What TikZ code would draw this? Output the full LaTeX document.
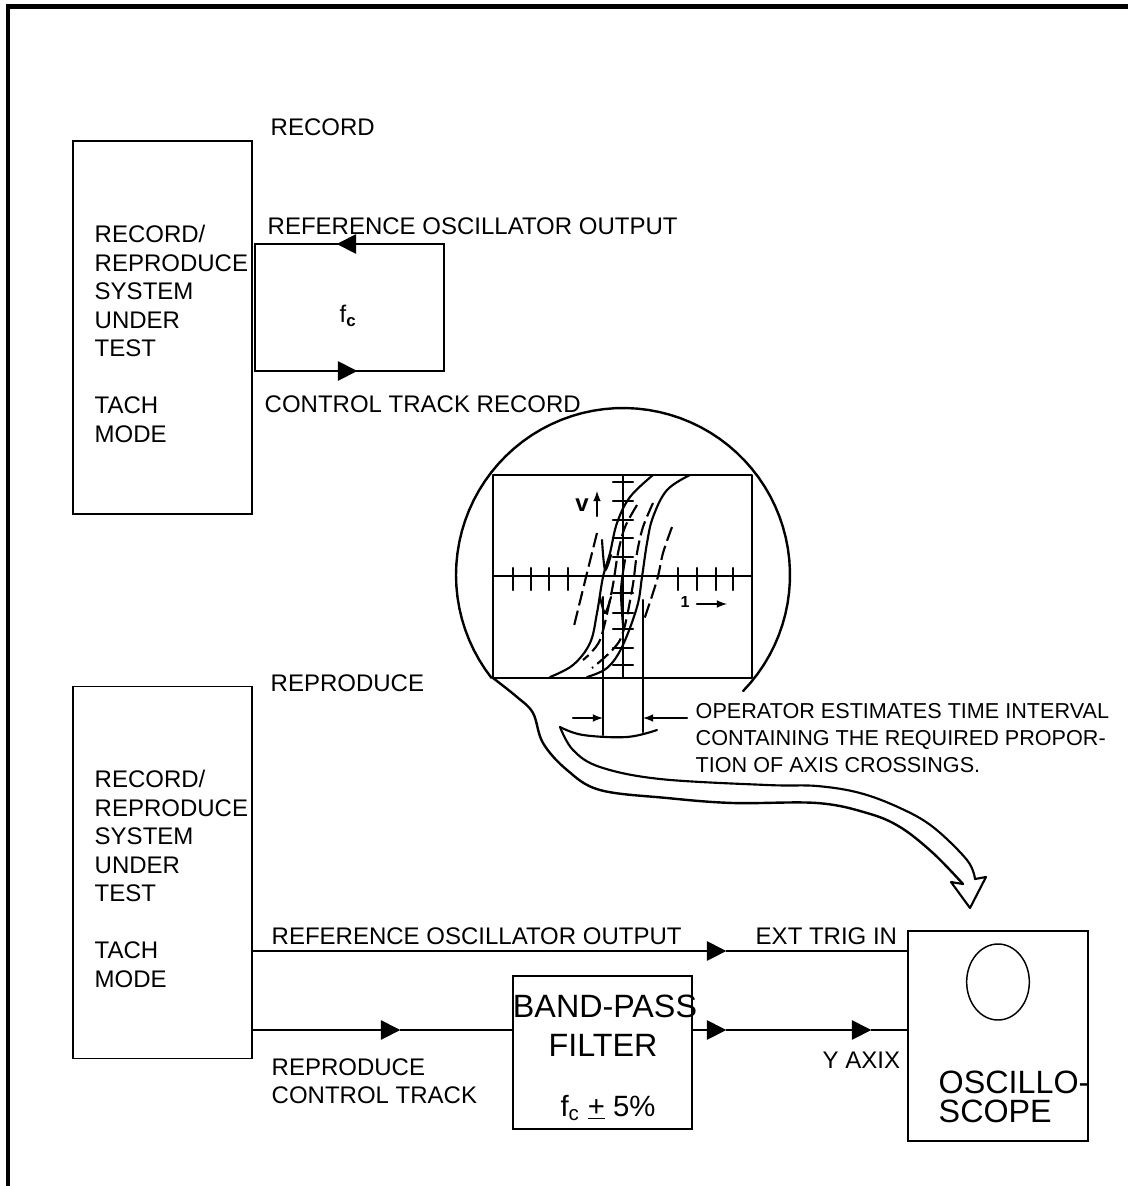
\documentclass[tikz,border=0pt]{standalone}
\usepackage{fontspec}
\setmainfont{Liberation Sans}
\usetikzlibrary{shapes.geometric}

\begin{document}
\begin{tikzpicture}[x=0.75pt, y=-0.75pt, line width=1.1pt,
box node/.style={draw, minimum width=#1, inner sep=0},
tip node/.style={isosceles triangle, isosceles triangle apex angle=54, fill, inner sep=0, outer sep=0, minimum height=14.5pt, minimum width=14.5pt},
txt/.style={anchor=west, inner sep=0, font=\fontsize{18}{21.4}\selectfont, align=left},
big/.style={inner sep=0, font=\fontsize{24.2}{29}\selectfont},
small/.style={anchor=west, inner sep=0, font=\fontsize{16.2}{20.2}\selectfont, align=left},
scan/.style={line width=1.6pt, line cap=round, line join=round},
scandash/.style={line width=1.6pt, dash pattern=on 11pt off 4pt}]
\useasboundingbox (0,0) rectangle (1128,1186);
% frame
\coordinate (f1) at (8,1186);
\coordinate (f2) at (8,6.5);
\coordinate (f3) at (1128,6.5);
\draw [line width=3.6pt, line join=miter] (f1) -- (f2) -- (f3);
% record
\node[box node=134.25pt, minimum height=279.75pt] (1) at (162.5,327.5) {};
\node[txt] (1t) at (94,334) {RECORD/\\REPRODUCE\\SYSTEM\\UNDER\\TEST\\[21.4pt]TACH\\MODE};
\node[txt] (2) at (270,127) {RECORD};
\node[box node=141.75pt, minimum height=95.25pt] (3) at (349.5,307.5) {};
\node[txt] (4) at (267,226) {REFERENCE OSCILLATOR OUTPUT};
\node[txt] (5) at (339,316) {f\textsubscript{\textbf{c}}};
\node[txt] (6) at (264,404) {CONTROL TRACK RECORD};
\node[tip node, rotate=180] (7) at (350,244) {};
\node[tip node] (8) at (344,371) {};
% reproduce
\node[box node=134.25pt, minimum height=279pt] (9) at (162.5,872.5) {};
\node[txt] (9t) at (94,879) {RECORD/\\REPRODUCE\\SYSTEM\\UNDER\\TEST\\[21.4pt]TACH\\MODE};
\node[txt] (10) at (270,683) {REPRODUCE};
\node[txt] (11) at (271,936) {REFERENCE OSCILLATOR OUTPUT};
\node[txt] (12) at (755,936) {EXT TRIG IN};
\node[txt] (13) at (271,1081) {REPRODUCE\\CONTROL TRACK};
\node[txt] (14) at (822,1060) {Y AXIX};
\node[box node=134.25pt, minimum height=114.75pt] (15) at (602.5,1052.5) {};
\node[big] (16) at (605,1006) {BAND-PASS};
\node[big] (17) at (603,1045) {FILTER};
\node[big, font=\fontsize{22}{29}\selectfont] (18) at (608,1108) {f\textsubscript{c} \underline{+} 5\%};
\node[box node=135pt, minimum height=157.5pt] (19) at (998,1036) {};
\node[draw, ellipse, minimum width=47pt, minimum height=57pt, inner sep=0] (20) at (998,982) {};
\node[big, anchor=west] (21) at (938,1082) {OSCILLO-};
\node[big, anchor=west] (22) at (938,1111) {SCOPE};
% tips on the lines
\node[tip node] (23) at (713,951) {};
\node[tip node] (24) at (387,1030) {};
\node[tip node] (25) at (713,1030) {};
\node[tip node] (26) at (858,1030) {};
\coordinate (a1) at (252,951);
\coordinate (a2) at (908,951);
\coordinate (b1) at (252,1030);
\coordinate (b2) at (513,1030);
\coordinate (c1) at (692,1030);
\coordinate (c2) at (908,1030);
\path
(a1) edge (23)
(23) edge (a2)
(b1) edge (24)
(24) edge (b2)
(c1) edge (25)
(25) edge (26)
(26) edge (c2);
% screen
\draw [scan] (493,475) rectangle (752,678);
\draw [line width=1.2pt] (493,576) -- (752,576);
\draw [scan] (623,475) -- (623,678);
\foreach \x in {513,531,549,568,678,697,716,733}
  \draw [scan] (\x,568) -- (\x,590);
\foreach \y in {482,501,520,538,557,593,613,629,648,665}
  \draw [scan] (613,\y) -- (633,\y);
% outline
\draw [scan, line width=1.8pt] plot[domain=44:-218, samples=70] ({623+167*cos(\x)},{575+167*sin(\x)});
\draw [scan, line width=1.8pt] plot[smooth, tension=0.6] coordinates {(493,678) (517,697) (533,713) (543,743) (567,770) (600,790) (667,798) (733,803) (817,803) (867,813) (900,827) (933,853) (963,884)};
\draw [scan] (963,884) -- (951,882) -- (970,908) -- (986,877) -- (975,879);
\draw [scan] plot[smooth, tension=0.6] coordinates {(975,879) (967,860) (933,827) (900,808) (860,793) (817,786) (767,785) (660,779) (600,767) (573,750) (560,727)};
\draw [scan] plot[smooth, tension=0.6] coordinates {(560,727) (583,735) (627,737) (657,730)};
% curves
\draw [scan] plot[smooth, tension=0.6] coordinates {(550,677) (573,665) (590,643) (597,613) (603,577) (610,553) (617,523) (630,497) (653,475)};
\draw [scan] plot[smooth, tension=0.6] coordinates {(587,677) (607,668) (622,647) (637,607) (642,577) (647,543) (653,517) (667,490) (690,475)};
\draw [scan] plot[smooth] coordinates {(602,540) (605,570) (611,555)};
\draw [scan] plot[smooth] coordinates {(600,597) (605,613) (611,597)};
\draw [scan] plot[smooth] coordinates {(623,625) (621,590) (625,560)};
\draw [scandash] plot[smooth] coordinates {(597,533) (587,573) (573,630)};
\draw [scandash] plot[smooth] coordinates {(672,527) (663,553) (657,580) (643,623)};
\draw [scandash] plot[smooth] coordinates {(653,503) (643,527) (637,553) (632,590) (620,640) (592,668)};
\draw [scandash] plot[smooth] coordinates {(637,505) (625,527) (618,553) (612,590) (600,640) (583,660)};
% reading
\coordinate (d1) at (603,597);
\coordinate (d2) at (603,735);
\coordinate (e1) at (643,600);
\coordinate (e2) at (643,732);
\draw [scan] (d1) -- (d2);
\draw [scan] (e1) -- (e2);
\coordinate (g1) at (573,718);
\coordinate (g2) at (687,718);
\draw [scan, -latex] (g1) -- (d1 |- g1);
\draw [scan, -latex] (g2) -- (e1 |- g2);
\node[inner sep=0, font=\bfseries\fontsize{18}{18}\selectfont] (27) at (582,505) {v};
\coordinate (h1) at (597,516);
\coordinate (h2) at (597,491);
\draw [scan, -latex] (h1) -- (h2);
\node[inner sep=0, font=\bfseries\fontsize{12}{12}\selectfont] (28) at (685,602) {1};
\coordinate (k1) at (697,604);
\coordinate (k2) at (727,604);
\draw [scan, -latex] (k1) -- (k2);
\node[small] (29) at (695,738) {OPERATOR ESTIMATES TIME INTERVAL\\CONTAINING THE REQUIRED PROPOR-\\TION OF AXIS CROSSINGS.};
\end{tikzpicture}
\end{document}
